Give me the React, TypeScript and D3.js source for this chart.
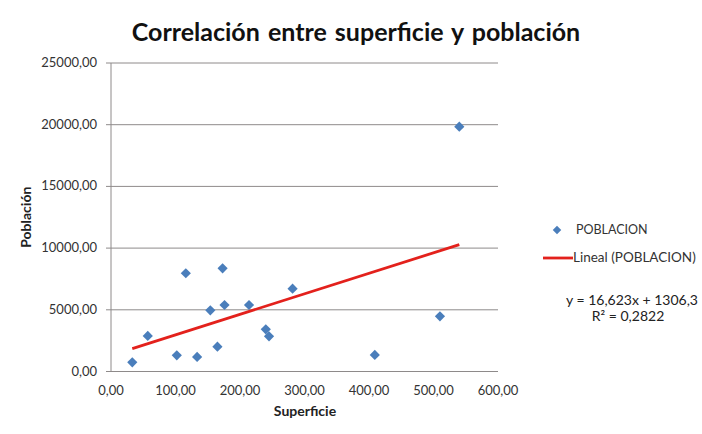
import * as d3 from 'd3';
import { useEffect, useRef } from 'react';

const superficie = [33, 57, 102, 116, 133.5, 154, 165, 173, 176, 214, 240, 245, 281.5, 409, 510, 540];
const poblacion = [745, 2880, 1310, 7960, 1180, 4960, 2010, 8360, 5390, 5390, 3420, 2850, 6710, 1340, 4470, 19840];
const xTicks = [0, 100, 200, 300, 400, 500, 600];
const yTicks = [0, 5000, 10000, 15000, 20000, 25000];
const slope = 16.623;
const intercept = 1306.3;

const W = 702;
const H = 434;
const FONT = 'Lato, "DejaVu Sans", sans-serif';
const BLUE = '#4a7ebb';
const RED = '#e3211c';
const GRID = '#8e8a8a';

const fmt = (v: number) => v.toFixed(2).replace('.', ',');

export default function App() {
  const svgRef = useRef<SVGSVGElement>(null);

  useEffect(() => {
    if (!svgRef.current) return;
    const svg = d3.select(svgRef.current);
    svg.selectAll('*').remove();

    const margin = { left: 111, top: 63, right: W - 498, bottom: H - 371.5 };
    const x = d3.scaleLinear().domain([0, 600]).range([margin.left, W - margin.right]);
    const y = d3.scaleLinear().domain([0, 25000]).range([H - margin.bottom, margin.top]);

    svg.append('rect').attr('width', W).attr('height', H).attr('fill', '#ffffff');

    // title
    svg
      .append('text')
      .attr('x', 356)
      .attr('y', 41)
      .attr('text-anchor', 'middle')
      .attr('font-family', FONT)
      .attr('font-weight', 'bold')
      .attr('font-size', 25)
      .attr('word-spacing', 2)
      .attr('fill', '#111')
      .text('Correlación entre superficie y población');

    // grid lines
    svg
      .append('g')
      .selectAll('line')
      .data(yTicks)
      .enter()
      .append('line')
      .attr('x1', x(0) - 5)
      .attr('x2', x(600))
      .attr('y1', (d) => y(d))
      .attr('y2', (d) => y(d))
      .attr('stroke', GRID)
      .attr('stroke-width', 1);

    // left axis line
    svg
      .append('line')
      .attr('x1', x(0))
      .attr('x2', x(0))
      .attr('y1', y(0))
      .attr('y2', y(25000))
      .attr('stroke', GRID);

    // y tick labels
    svg
      .append('g')
      .selectAll('text')
      .data(yTicks)
      .enter()
      .append('text')
      .attr('x', 97)
      .attr('y', (d) => y(d) + 4)
      .attr('text-anchor', 'end')
      .attr('font-family', FONT)
      .attr('font-size', 13)
      .attr('fill', '#333')
      .text((d) => fmt(d));

    // x tick labels
    svg
      .append('g')
      .selectAll('text')
      .data(xTicks)
      .enter()
      .append('text')
      .attr('x', (d) => x(d))
      .attr('y', 395)
      .attr('text-anchor', 'middle')
      .attr('font-family', FONT)
      .attr('font-size', 13)
      .attr('fill', '#333')
      .text((d) => fmt(d));

    // axis titles
    svg
      .append('text')
      .attr('x', 305)
      .attr('y', 416)
      .attr('text-anchor', 'middle')
      .attr('font-family', FONT)
      .attr('font-weight', 'bold')
      .attr('font-size', 14)
      .attr('fill', '#222')
      .text('Superficie');

    svg
      .append('text')
      .attr('transform', `translate(31, ${y(12500)}) rotate(-90)`)
      .attr('text-anchor', 'middle')
      .attr('font-family', FONT)
      .attr('font-weight', 'bold')
      .attr('font-size', 14)
      .attr('fill', '#222')
      .text('Población');

    // points (squares turned 45°)
    const diamond = d3.symbol().type(d3.symbolSquare).size(52);
    svg
      .append('g')
      .selectAll('path')
      .data(superficie.map((s, i) => [s, poblacion[i]]))
      .enter()
      .append('path')
      .attr('d', diamond)
      .attr('transform', (d) => `translate(${x(d[0])}, ${y(d[1])}) rotate(45)`)
      .attr('fill', BLUE);

    // trend line
    const [xmin, xmax] = d3.extent(superficie) as [number, number];
    const line = d3
      .line<number>()
      .x((d) => x(d))
      .y((d) => y(slope * d + intercept));
    svg
      .append('path')
      .attr('d', line([xmin, xmax]))
      .attr('stroke', RED)
      .attr('stroke-width', 2.8)
      .attr('fill', 'none');

    // legend
    svg
      .append('path')
      .attr('d', d3.symbol().type(d3.symbolSquare).size(36)())
      .attr('transform', 'translate(557, 230) rotate(45)')
      .attr('fill', BLUE);
    svg
      .append('text')
      .attr('x', 576)
      .attr('y', 234)
      .attr('font-family', FONT)
      .attr('font-size', 12.5)
      .attr('fill', '#333')
      .text('POBLACION');
    svg
      .append('line')
      .attr('x1', 543)
      .attr('x2', 573)
      .attr('y1', 258)
      .attr('y2', 258)
      .attr('stroke', RED)
      .attr('stroke-width', 2.8);
    svg
      .append('text')
      .attr('x', 573)
      .attr('y', 262)
      .attr('font-family', FONT)
      .attr('font-size', 13.5)
      .attr('fill', '#333')
      .text('Lineal (POBLACION)');

    // equation
    svg
      .append('text')
      .attr('x', 632)
      .attr('y', 305)
      .attr('text-anchor', 'middle')
      .attr('font-family', FONT)
      .attr('font-size', 14)
      .attr('fill', '#222')
      .text('y = 16,623x + 1306,3');
    svg
      .append('text')
      .attr('x', 628)
      .attr('y', 321)
      .attr('text-anchor', 'middle')
      .attr('font-family', FONT)
      .attr('font-size', 14)
      .attr('fill', '#222')
      .text('R² = 0,2822');
  }, []);

  return (
    <div style={{ position: 'fixed', left: 0, top: 0 }}>
      <svg ref={svgRef} width={W} height={H} style={{ display: 'block' }} />
    </div>
  );
}
